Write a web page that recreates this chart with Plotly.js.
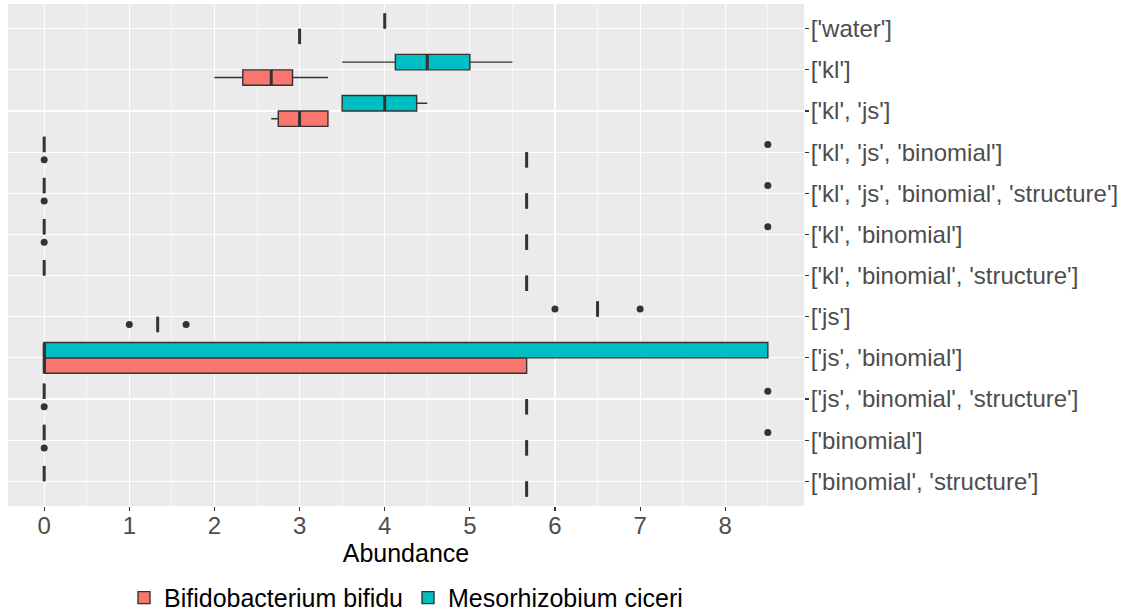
<!DOCTYPE html>
<html>
<head>
<meta charset="utf-8">
<script src="https://cdn.plot.ly/plotly-3.0.1.min.js"></script>
<style>html,body{margin:0;padding:0;background:#fff;}#chart{width:1143px;height:614px;}</style>
</head>
<body>
<div id="chart"></div>
<script>
// Categories, top to bottom
const categories = [
  "['water']", "['kl']", "['kl', 'js']", "['kl', 'js', 'binomial']",
  "['kl', 'js', 'binomial', 'structure']", "['kl', 'binomial']",
  "['kl', 'binomial', 'structure']", "['js']", "['js', 'binomial']",
  "['js', 'binomial', 'structure']", "['binomial']", "['binomial', 'structure']"
];
const seriesNames = ["Bifidobacterium bifidu", "Mesorhizobium ciceri"];
const seriesColors = ["#F8766D", "#00BFC4"];

// Bifidobacterium bifidu box statistics
const bifLower  = [3, 2.0,   2.667, 5.667, 5.667, 5.667, 5.667, 1.333, 0, 5.667, 5.667, 5.667];
const bifQ1     = [3, 2.333, 2.75,  5.667, 5.667, 5.667, 5.667, 1.333, 0, 5.667, 5.667, 5.667];
const bifMedian = [3, 2.667, 3.0,   5.667, 5.667, 5.667, 5.667, 1.333, 0, 5.667, 5.667, 5.667];
const bifQ3     = [3, 2.917, 3.333, 5.667, 5.667, 5.667, 5.667, 1.333, 5.667, 5.667, 5.667, 5.667];
const bifUpper  = [3, 3.333, 3.333, 5.667, 5.667, 5.667, 5.667, 1.333, 5.667, 5.667, 5.667, 5.667];
const bifOutliers = [[], [], [], [0], [0], [0], [], [1, 1.667], [], [0], [0], []];

// Mesorhizobium ciceri box statistics
const mesLower  = [4, 3.5,   3.5,   0, 0, 0, 0, 6.5, 0, 0, 0, 0];
const mesQ1     = [4, 4.125, 3.5,   0, 0, 0, 0, 6.5, 0, 0, 0, 0];
const mesMedian = [4, 4.5,   4.0,   0, 0, 0, 0, 6.5, 0, 0, 0, 0];
const mesQ3     = [4, 5.0,   4.375, 0, 0, 0, 0, 6.5, 8.5, 0, 0, 0];
const mesUpper  = [4, 5.5,   4.5,   0, 0, 0, 0, 6.5, 8.5, 0, 0, 0];
const mesOutliers = [[], [], [], [8.5], [8.5], [8.5], [], [6, 7], [], [8.5], [8.5], []];

const xTicks = [0, 1, 2, 3, 4, 5, 6, 7, 8];

// dodge layout (category units)
const n = categories.length;
const boxW = 0.375;
const dodge = [-0.1875, 0.1875]; // Bifido below, Meso above
const basePos = categories.map((c, i) => n - 1 - i);

const stats = [
  {lower: bifLower, q1: bifQ1, med: bifMedian, q3: bifQ3, upper: bifUpper, out: bifOutliers},
  {lower: mesLower, q1: mesQ1, med: mesMedian, q3: mesQ3, upper: mesUpper, out: mesOutliers}
];

const edge = "#333333";
const traces = [];
stats.forEach((s, k) => {
  const pos = basePos.map(p => p + dodge[k]);
  traces.push({
    type: 'box', orientation: 'h', name: seriesNames[k],
    y: pos, q1: s.q1, median: s.med, q3: s.q3,
    lowerfence: s.lower, upperfence: s.upper,
    width: boxW, whiskerwidth: 0,
    fillcolor: seriesColors[k],
    line: {color: edge, width: 1.4},
    hoverinfo: 'skip', showlegend: true
  });
});
// thick median lines
stats.forEach((s, k) => {
  const xs = [], ys = [];
  basePos.forEach((p, i) => {
    const c = p + dodge[k];
    xs.push(s.med[i], s.med[i], null);
    ys.push(c - boxW / 2, c + boxW / 2, null);
  });
  traces.push({type: 'scatter', mode: 'lines', x: xs, y: ys,
    line: {color: edge, width: 3}, showlegend: false, hoverinfo: 'skip'});
});
// outliers
stats.forEach((s, k) => {
  const xs = [], ys = [];
  basePos.forEach((p, i) => {
    s.out[i].forEach(v => { xs.push(v); ys.push(p + dodge[k]); });
  });
  traces.push({type: 'scatter', mode: 'markers', x: xs, y: ys,
    marker: {color: edge, size: 7}, showlegend: false, hoverinfo: 'skip'});
});

const font = "Liberation Sans, Arial, Helvetica, sans-serif";
const layout = {
  width: 1143, height: 614,
  margin: {l: 8, r: 339, t: 4, b: 108, autoexpand: false},
  paper_bgcolor: '#FFFFFF', plot_bgcolor: '#EBEBEB',
  font: {family: font, size: 24, color: '#4D4D4D'},
  boxmode: 'overlay',
  showlegend: true,
  legend: {orientation: 'h', x: 0.5, xanchor: 'center', y: -0.183, yanchor: 'middle',
    font: {size: 25, color: '#000000'}, traceorder: 'normal'},
  xaxis: {
    range: [-0.425, 8.925], tickvals: xTicks, ticktext: xTicks.map(String),
    showgrid: true, gridcolor: '#FFFFFF', gridwidth: 1.2, zeroline: false,
    minor: {dtick: 0.5, tick0: 0, showgrid: true, gridcolor: '#FFFFFF', gridwidth: 0.6, ticks: ''},
    ticks: 'outside', ticklen: 4, tickwidth: 1.1, tickcolor: edge,
    ticklabelstandoff: -6,
    tickfont: {size: 24, color: '#4D4D4D'},
    title: {text: 'Abundance', font: {size: 25, color: '#000000'}, standoff: 0},
    showline: false
  },
  yaxis: {
    range: [-0.6, n - 1 + 0.6], tickvals: basePos, ticktext: categories,
    side: 'right', showgrid: true, gridcolor: '#FFFFFF', gridwidth: 1.2, zeroline: false,
    ticks: 'outside', ticklen: 4, tickwidth: 1.1, tickcolor: edge,
    ticklabelstandoff: -3,
    tickfont: {size: 24, color: '#4D4D4D'}, showline: false
  }
};
Plotly.newPlot('chart', traces, layout, {displayModeBar: false, staticPlot: true});
</script>
</body>
</html>
